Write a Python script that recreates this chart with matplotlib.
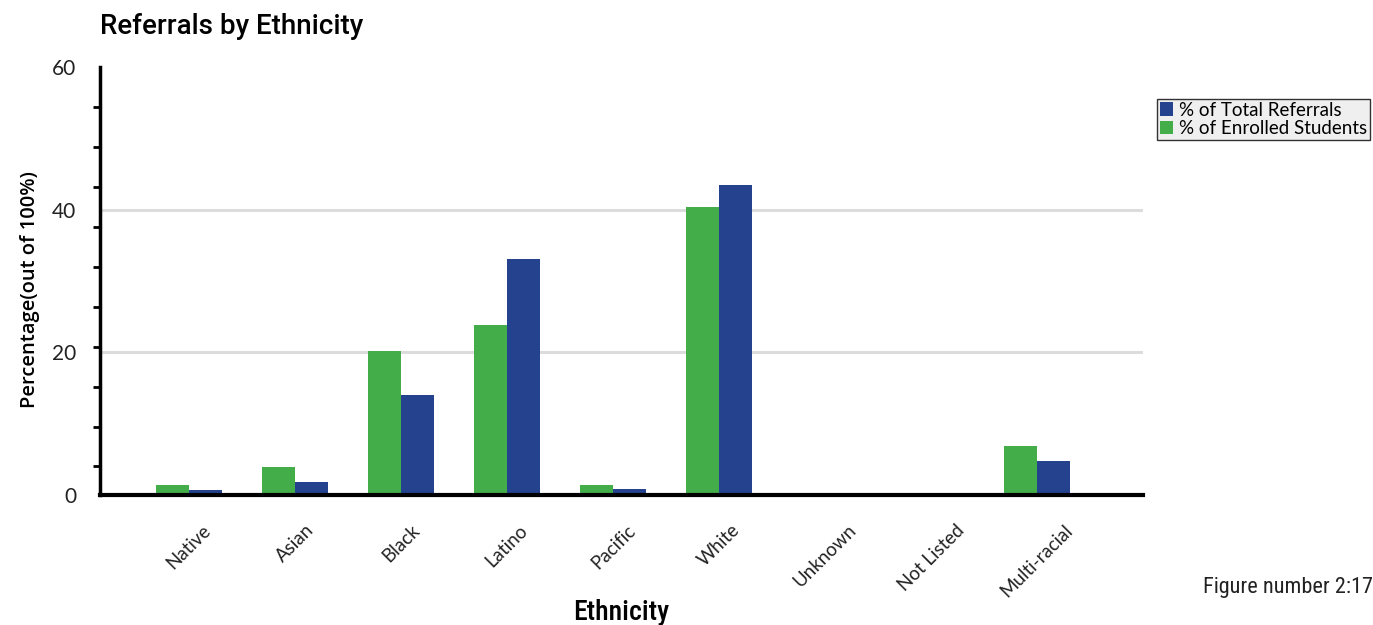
import numpy as np
import matplotlib
matplotlib.use("Agg")
import matplotlib.pyplot as plt
from matplotlib.patches import Patch

# Data
categories = ["Native", "Asian", "Black", "Latino", "Pacific", "White",
              "Unknown", "Not Listed", "Multi-racial"]
enrolled_pct = [1.4, 3.9, 20.2, 23.8, 1.4, 40.4, 0.0, 0.0, 6.8]
referral_pct = [0.7, 1.8, 14.0, 33.1, 0.8, 43.4, 0.0, 0.0, 4.7]
y_major_ticks = [0, 20, 40, 60]

GREEN = "#43ad4a"
BLUE = "#25428f"
TEXT = "#222222"

plt.rcParams["font.family"] = ["Open Sans", "DejaVu Sans"]

fig = plt.figure(figsize=(13.73, 6.25), dpi=100)
ax = fig.add_axes([0.0728, 0.208, 0.7597, 0.6848])

x = np.arange(len(categories))
w = 0.31
ax.bar(x - w / 2, enrolled_pct, width=w, color=GREEN, zorder=3)
ax.bar(x + w / 2, referral_pct, width=w, color=BLUE, zorder=3)

ax.set_xlim(-0.84, 9.0)
ax.set_ylim(0, 60)

# Grid lines at the labelled interior values
for v in (20, 40):
    ax.axhline(v, color="#dcdcdc", lw=2.2, zorder=1)

for s in ("top", "right"):
    ax.spines[s].set_visible(False)
ax.spines["left"].set_linewidth(2.5)
ax.spines["bottom"].set_linewidth(3)
ax.spines["left"].set_zorder(4)
ax.spines["bottom"].set_zorder(4)

ax.set_yticks(y_major_ticks)
ax.set_yticklabels([str(v) for v in y_major_ticks], fontfamily="Lato",
                   fontsize=15, color=TEXT)
ax.set_yticks(np.arange(60, 0, -5.6), minor=True)
ax.tick_params(axis="y", which="major", length=0, pad=17)
ax.tick_params(axis="y", which="minor", length=5, width=2, direction="out")

ax.set_xticks(x)
ax.set_xticklabels(categories, rotation=45, ha="center", va="top",
                   fontfamily="Lato", fontsize=13.5, color=TEXT)
ax.tick_params(axis="x", length=0, pad=19)

ax.set_ylabel("Percentage(out of 100%)", fontsize=14.5, fontweight="semibold")
ax.yaxis.set_label_coords(-0.057, 0.48)
ax.set_xlabel("Ethnicity", fontsize=20, fontweight="medium",
              fontfamily="Roboto Condensed")
ax.xaxis.set_label_coords(0.5, -0.243)

fig.text(0.0728, 0.957, "Referrals by Ethnicity", fontsize=20,
         fontweight="medium", fontfamily="Roboto", ha="left", va="center")

handles = [Patch(facecolor=BLUE, edgecolor="none"),
           Patch(facecolor=GREEN, edgecolor="none")]
leg = fig.legend(handles, ["% of Total Referrals", "% of Enrolled Students"],
                 loc="upper left", bbox_to_anchor=(0.843, 0.842),
                 frameon=True, fancybox=False,
                 prop={"family": "Lato", "size": 13.5},
                 handlelength=0.7, handleheight=0.7, handletextpad=0.3,
                 borderpad=0.15, labelspacing=0.1, borderaxespad=0)
leg.get_frame().set_facecolor("#ebebeb")
leg.get_frame().set_edgecolor("#000000")
leg.get_frame().set_linewidth(1.0)

fig.text(1.0, 0.06, "Figure number 2:17", fontsize=16,
         fontfamily="Roboto Condensed", ha="right", va="center", color=TEXT)

fig.savefig("out.png", dpi=100)
